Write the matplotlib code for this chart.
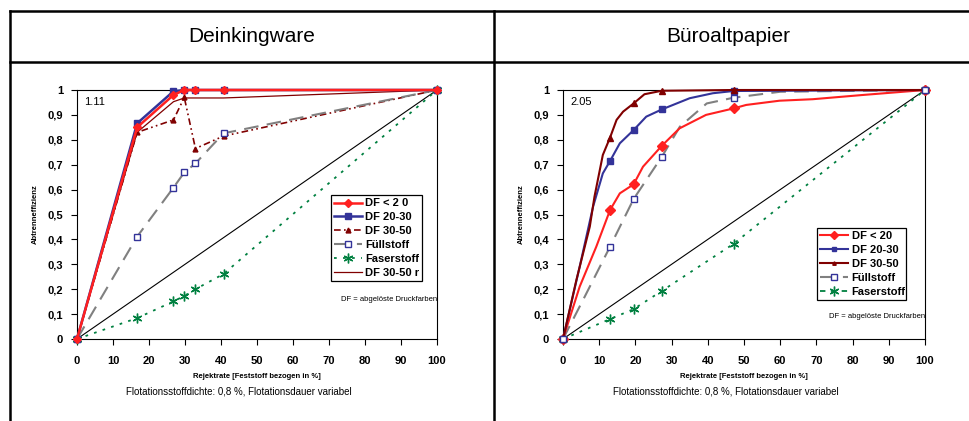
import matplotlib.pyplot as plt
from matplotlib.lines import Line2D

plt.rcParams['font.family'] = ['Liberation Sans', 'DejaVu Sans']

# --- Deinkingware (1.11)
x_dw = [0, 16.7, 26.8, 29.8, 32.9, 40.7, 100]
dw_df20 = [0, 0.85, 0.98, 1.0, 1.0, 1.0, 1.0]
dw_df2030 = [0, 0.866, 0.995, 1.0, 1.0, 1.0, 1.0]
dw_df3050 = [0, 0.83, 0.88, 0.97, 0.765, 0.815, 1.0]
dw_fuell = [0, 0.411, 0.608, 0.669, 0.705, 0.826, 1.0]
dw_faser = [0, 0.084, 0.151, 0.173, 0.2, 0.261, 1.0]
x_dw_r = [0, 16.7, 26.8, 29.8, 40.7, 100]
dw_df3050r = [0, 0.83, 0.953, 0.968, 0.968, 1.0]

# --- Büroaltpapier (2.05)
x_bp_mark = [0, 13.0, 19.5, 27.3, 47.1, 100]
bp_df20_mark = [0, 0.518, 0.621, 0.776, 0.926, 1.0]
bp_df2030_mark = [0, 0.715, 0.839, 0.922, 0.996, 1.0]
bp_df3050_mark = [0, 0.809, 0.946, 0.997, 1.0, 1.0]
bp_fuell_mark = [0, 0.371, 0.562, 0.732, 0.969, 1.0]
bp_faser = [0, 0.08, 0.12, 0.193, 0.382, 1.0]

x_bp_df20 = [0, 4.6, 9.2, 13.0, 15.7, 19.5, 22.1, 27.3, 32.2, 39.5, 47.1, 50.6, 59.8, 69.0, 82.8, 100]
bp_df20 = [0, 0.21, 0.371, 0.518, 0.585, 0.621, 0.692, 0.776, 0.846, 0.9, 0.926, 0.94, 0.957, 0.963, 0.98, 1.0]
x_bp_df2030 = [0, 4.6, 8.3, 11.0, 13.0, 15.7, 19.5, 23.0, 27.3, 35.0, 41.4, 47.1, 100]
bp_df2030 = [0, 0.29, 0.531, 0.665, 0.715, 0.786, 0.839, 0.893, 0.922, 0.967, 0.987, 0.996, 1.0]
x_bp_df3050 = [0, 3.7, 7.4, 8.7, 11.0, 13.0, 14.8, 16.6, 19.5, 22.5, 27.3, 47.1, 100]
bp_df3050 = [0, 0.237, 0.451, 0.572, 0.739, 0.809, 0.88, 0.913, 0.946, 0.983, 0.997, 1.0, 1.0]
x_bp_fuell = [0, 6.0, 13.0, 19.5, 27.3, 32.3, 39.7, 47.1, 60.0, 100]
bp_fuell = [0, 0.17, 0.371, 0.562, 0.732, 0.853, 0.946, 0.969, 0.993, 1.0]

xticks = list(range(0, 101, 10))
yticks = [i / 10 for i in range(11)]
ytick_labels = ['0'] + ['0,%d' % i for i in range(1, 10)] + ['1']

RED = '#ff2020'
BLUE = '#333399'
DRED = '#800000'
GRAY = '#808080'
GREEN = '#008040'
NARROW = ['Liberation Sans Narrow', 'Liberation Sans']

fig = plt.figure(figsize=(9.69, 4.21), dpi=100)

# table frame
W, H = 969, 421
def hline(y, x0, x1):
    fig.add_artist(Line2D([x0 / W, x1 / W], [1 - y / H, 1 - y / H], color='black', lw=1.8))
def vline(x, y0, y1):
    fig.add_artist(Line2D([x / W, x / W], [1 - y0 / H, 1 - y1 / H], color='black', lw=1.8))
hline(11, 10, 969)
hline(62, 10, 969)
vline(10, 11, 421)
vline(494, 11, 421)

fig.text(252 / W, 1 - 37 / H, 'Deinkingware', ha='center', va='center', fontsize=15)
fig.text(728 / W, 1 - 37 / H, 'Büroaltpapier', ha='center', va='center', fontsize=15)

ax1 = fig.add_axes([77 / W, 82 / H, 360 / W, 249 / H])
ax2 = fig.add_axes([563 / W, 82 / H, 362 / W, 249 / H])

# left chart
ax1.plot([0, 100], [0, 1], color='black', lw=0.8, zorder=1)
ax1.plot(x_dw, dw_df20, color=RED, lw=1.8, marker='D', ms=4.5, label='DF < 2 0', clip_on=False, zorder=5)
ax1.plot(x_dw, dw_df2030, color=BLUE, lw=1.8, marker='s', ms=5, label='DF 20-30', clip_on=False, zorder=4)
ax1.plot(x_dw, dw_df3050, color=DRED, lw=1.2, ls=(0, (4, 2, 1, 2, 1, 2)), marker='^', ms=3.5,
         label='DF 30-50', clip_on=False, zorder=3)
ax1.plot(x_dw, dw_fuell, color=GRAY, lw=1.5, ls=(0, (7, 4)), marker='s', ms=4.5, mfc='white',
         mec=BLUE, mew=1, label='Füllstoff', clip_on=False, zorder=3)
ax1.plot(x_dw, dw_faser, color=GREEN, lw=1.3, ls=(0, (1.5, 3.5)), marker=(6, 2, 0), ms=7,
         mew=1, label='Faserstoff', clip_on=False, zorder=3)
ax1.plot(x_dw_r, dw_df3050r, color=DRED, lw=0.9, label='DF 30-50 r', clip_on=False, zorder=3)

# right chart
ax2.plot([0, 100], [0, 1], color='black', lw=0.8, zorder=1)
ax2.plot(x_bp_df20, bp_df20, color=RED, lw=1.5, zorder=4, clip_on=False)
ax2.plot(x_bp_mark, bp_df20_mark, ls='none', color=RED, marker='D', ms=5, clip_on=False, zorder=4)
ax2.plot(x_bp_df2030, bp_df2030, color=BLUE, lw=1.5, zorder=4, clip_on=False)
ax2.plot(x_bp_mark, bp_df2030_mark, ls='none', color=BLUE, marker='s', ms=5, clip_on=False, zorder=4)
ax2.plot(x_bp_df3050, bp_df3050, color=DRED, lw=1.5, zorder=4, clip_on=False)
ax2.plot(x_bp_mark, bp_df3050_mark, ls='none', color=DRED, marker='^', ms=4, clip_on=False, zorder=4)
ax2.plot(x_bp_fuell, bp_fuell, color=GRAY, lw=1.5, ls=(0, (7, 4)), zorder=3, clip_on=False)
ax2.plot(x_bp_mark, bp_fuell_mark, ls='none', marker='s', ms=5, mfc='white', mec=BLUE, mew=1,
         clip_on=False, zorder=4)
ax2.plot(x_bp_mark, bp_faser, color=GREEN, lw=1.3, ls=(0, (1.5, 3.5)), marker=(6, 2, 0), ms=7,
         mew=1, clip_on=False, zorder=3)

h2 = [
    Line2D([], [], color=RED, lw=1.5, marker='D', ms=4.5, label='DF < 20'),
    Line2D([], [], color=BLUE, lw=1.5, marker='s', ms=3, label='DF 20-30'),
    Line2D([], [], color=DRED, lw=1.5, marker='^', ms=2.5, label='DF 30-50'),
    Line2D([], [], color=GRAY, lw=1.5, ls=(0, (7, 4)), marker='s', ms=4.5, mfc='white', mec=BLUE,
           label='Füllstoff'),
    Line2D([], [], color=GREEN, lw=1.3, ls=(0, (3, 3)), marker=(6, 2, 0), ms=7, label='Faserstoff'),
]

for ax, label, note_y, handles, lbox in [
        (ax1, '1.11', 0.157, None, (0.705, 0.197, 0.252, 0.381)),
        (ax2, '2.05', 0.092, h2, (0.702, 0.133, 0.245, 0.313))]:
    ax.set_xlim(0, 100)
    ax.set_ylim(0, 1)
    ax.set_xticks(xticks)
    ax.set_xticklabels([str(t) for t in xticks], fontsize=8, fontweight='bold', family=NARROW)
    ax.set_yticks(yticks)
    ax.set_yticklabels(ytick_labels, fontsize=8, fontweight='bold')
    ax.tick_params(direction='out', length=4, width=0.8, pad=6)
    ax.tick_params(axis='x', pad=8)
    for s in ax.spines.values():
        s.set_linewidth(0.8)
    ax.set_ylabel('Abtrenneffizienz', fontsize=5.5, fontweight='bold', labelpad=6)
    ax.set_xlabel('Rejektrate [Feststoff bezogen in %]', fontsize=5.5, fontweight='bold', labelpad=5)
    ax.text(0.45, -0.209, 'Flotationsstoffdichte: 0,8 %, Flotationsdauer variabel', transform=ax.transAxes,
            ha='center', va='center', fontsize=7, family=NARROW)
    ax.text(0.02, 0.95, label, transform=ax.transAxes, fontsize=8, va='center')
    ax.text(1.0, note_y, 'DF = abgelöste Druckfarben', transform=ax.transAxes, ha='right',
            va='center', fontsize=5.5, family=NARROW)
    leg = ax.legend(handles=handles, loc='upper left', bbox_to_anchor=lbox, mode='expand',
                    prop={'weight': 'bold', 'size': 8}, frameon=True, fancybox=False,
                    framealpha=1, edgecolor='black', handlelength=2.5, handletextpad=0.3,
                    labelspacing=0.35, borderpad=0.3, borderaxespad=0)
    leg.get_frame().set_linewidth(0.9)

fig.savefig('out.png', dpi=100)
